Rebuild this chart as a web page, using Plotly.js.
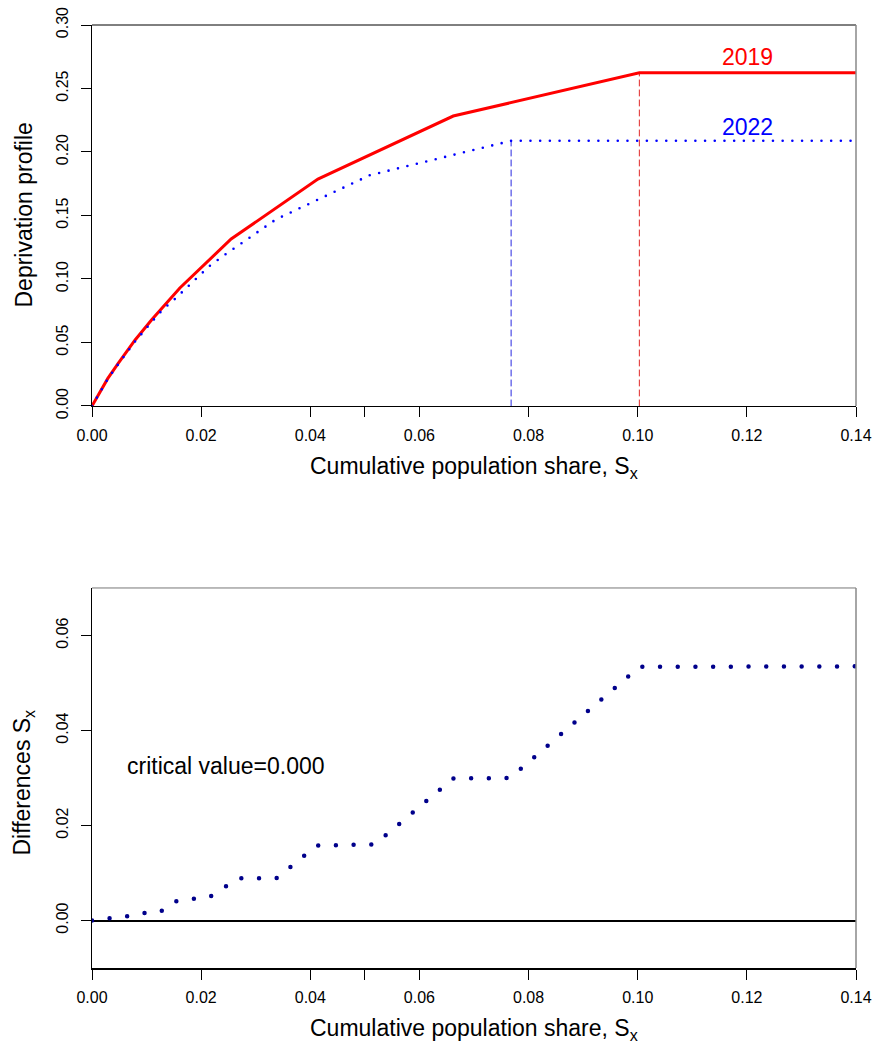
<!DOCTYPE html>
<html><head><meta charset="utf-8">
<script src="https://cdn.plot.ly/plotly-3.0.1.min.js"></script>
<style>
html,body{margin:0;padding:0;background:#fff;}
#chart{width:873px;height:1041px;}
path.js-line{stroke-linecap:round !important;}
</style></head><body><div id="chart"></div>
<script>
// Deprivation profiles (top panel)
const x2019 = [0, 0.0015, 0.0029, 0.0048, 0.0079, 0.0109, 0.0161, 0.0255, 0.0414, 0.0662, 0.1003, 0.14];
const y2019 = [0, 0.0110, 0.0217, 0.0336, 0.0520, 0.0677, 0.0929, 0.1315, 0.1787, 0.2283, 0.2624, 0.2624];
const x2022 = [0, 0.0015, 0.0029, 0.0048, 0.0079, 0.0109, 0.0130, 0.0150, 0.0182, 0.0215, 0.0240, 0.0268, 0.0337, 0.0509, 0.0768, 0.14];
const y2022 = [0, 0.0108, 0.0213, 0.0329, 0.0508, 0.0660, 0.0761, 0.0835, 0.0968, 0.1101, 0.1181, 0.1265, 0.1469, 0.1817, 0.2088, 0.2088];
// Points where each profile reaches its maximum (dashed drop lines)
const xCut = [0.1003, 0.0768];
const yCut = [0.2624, 0.2088];
const seriesNames = ['2019', '2022'];
// Differences (bottom panel)
const xDiff = [0, 0.0032, 0.0064, 0.0096, 0.0125, 0.0150, 0.0216, 0.0268, 0.0338, 0.0412, 0.0518, 0.0662, 0.0766, 0.1003, 0.14];
const yDiff = [0, 0.0004, 0.0009, 0.0016, 0.0018, 0.0040, 0.0050, 0.0089, 0.0089, 0.0158, 0.0160, 0.0299, 0.0300, 0.0534, 0.0535];
const criticalLabel = 'critical value=0.000';
// Ticks
const xTickVals = [0, 0.02, 0.04, 0.06, 0.08, 0.10, 0.12, 0.14];
const xTickText = ['0.00', '0.02', '0.04', '0.06', '0.08', '0.10', '0.12', '0.14'];
const xExtraTick = [0.05];
const yTickVals1 = [0, 0.05, 0.10, 0.15, 0.20, 0.25, 0.30];
const yTickText1 = ['0.00', '0.05', '0.10', '0.15', '0.20', '0.25', '0.30'];
const yTickVals2 = [0, 0.02, 0.04, 0.06];
const yTickText2 = ['0.00', '0.02', '0.04', '0.06'];

const FONT = 'Liberation Sans, Arial, Helvetica, sans-serif';
const BIG = 23;

const traces = [
  {x: [xCut[0], xCut[0]], y: [0, yCut[0]], xaxis: 'x', yaxis: 'y', mode: 'lines',
   line: {color: 'rgb(225,40,40)', width: 1, dash: '6px,4px'}, hoverinfo: 'skip'},
  {x: [xCut[1], xCut[1]], y: [0, yCut[1]], xaxis: 'x', yaxis: 'y', mode: 'lines',
   line: {color: 'rgb(40,40,225)', width: 1, dash: '6px,4px'}, hoverinfo: 'skip'},
  {x: x2019, y: y2019, xaxis: 'x', yaxis: 'y', mode: 'lines', name: seriesNames[0],
   line: {color: '#ff0000', width: 3}},
  {x: x2022, y: y2022, xaxis: 'x', yaxis: 'y', mode: 'lines', name: seriesNames[1],
   line: {color: '#0000ff', width: 2.6, dash: '0px,9.7px'}},
  {x: xDiff, y: yDiff, xaxis: 'x2', yaxis: 'y2', mode: 'lines', name: 'Differences',
   line: {color: '#00008b', width: 4.5, dash: '0px,17.7px'}}
];

const axCommon = {
  ticks: 'outside', ticklen: 10, tickwidth: 1, tickcolor: '#000',
  showline: true, linecolor: '#000', linewidth: 1.5,
  showgrid: false, zeroline: false, fixedrange: true,
  tickfont: {family: FONT, size: 16, color: '#000'},
  tickmode: 'array'
};
const xMinor = {tickmode: 'array', tickvals: xExtraTick, ticks: 'outside', ticklen: 10, tickwidth: 1, tickcolor: '#000', showgrid: false};

const layout = {
  width: 873, height: 1041,
  margin: {l: 92, r: 17, t: 25, b: 73},
  paper_bgcolor: '#fff', plot_bgcolor: '#fff',
  showlegend: false,
  font: {family: FONT, color: '#000'},
  xaxis: Object.assign({}, axCommon, {domain: [0, 1], anchor: 'y', range: [0, 0.14],
    tickvals: xTickVals, ticktext: xTickText, ticklabelstandoff: 4, minor: xMinor}),
  yaxis: Object.assign({}, axCommon, {domain: [0.596, 1], anchor: 'x', range: [0, 0.30],
    tickvals: yTickVals1, ticktext: yTickText1, tickangle: -90, ticklabelstandoff: 6}),
  xaxis2: Object.assign({}, axCommon, {domain: [0, 1], anchor: 'y2', range: [0, 0.14],
    tickvals: xTickVals, ticktext: xTickText, ticklabelstandoff: 4, minor: xMinor}),
  yaxis2: Object.assign({}, axCommon, {domain: [0, 0.403], anchor: 'x2', range: [-0.01, 0.07],
    tickvals: yTickVals2, ticktext: yTickText2, tickangle: -90, ticklabelstandoff: 6,
    zeroline: true, zerolinecolor: '#000', zerolinewidth: 2}),
  shapes: [
    {type: 'line', xref: 'x domain', yref: 'y domain', x0: 0, x1: 1, y0: 1, y1: 1, line: {color: '#000', width: 1}},
    {type: 'line', xref: 'x domain', yref: 'y domain', x0: 1, x1: 1, y0: 0, y1: 1, line: {color: '#888', width: 1.5}},
    {type: 'line', xref: 'x2 domain', yref: 'y2 domain', x0: 0, x1: 1, y0: 1, y1: 1, line: {color: '#777', width: 1}},
    {type: 'line', xref: 'x2 domain', yref: 'y2 domain', x0: 1, x1: 1, y0: 0, y1: 1, line: {color: '#888', width: 1.5}}
  ],
  annotations: [
    {xref: 'paper', yref: 'paper', x: -0.089, y: 0.798, text: 'Deprivation profile', textangle: -90,
     showarrow: false, xanchor: 'center', yanchor: 'middle', font: {size: BIG}},
    {xref: 'paper', yref: 'paper', x: 0.5, y: 0.5312, text: 'Cumulative population share, S<sub>x</sub>',
     showarrow: false, xanchor: 'center', yanchor: 'middle', font: {size: BIG}},
    {xref: 'paper', yref: 'paper', x: -0.089, y: 0.1967, text: 'Differences S<sub>x</sub>', textangle: -90,
     showarrow: false, xanchor: 'center', yanchor: 'middle', font: {size: BIG}},
    {xref: 'paper', yref: 'paper', x: 0.5, y: -0.0656, text: 'Cumulative population share, S<sub>x</sub>',
     showarrow: false, xanchor: 'center', yanchor: 'middle', font: {size: BIG}},
    {xref: 'x', yref: 'y', x: 0.1202, y: 0.2746, text: seriesNames[0], showarrow: false,
     xanchor: 'center', yanchor: 'middle', font: {size: BIG, color: '#ff0000'}},
    {xref: 'x', yref: 'y', x: 0.1202, y: 0.2199, text: seriesNames[1], showarrow: false,
     xanchor: 'center', yanchor: 'middle', font: {size: BIG, color: '#0000ff'}},
    {xref: 'x2', yref: 'y2', x: 0.0060, y: 0.0326, text: criticalLabel, showarrow: false,
     xanchor: 'left', yanchor: 'middle', font: {size: BIG, color: '#000'}}
  ]
};

Plotly.newPlot('chart', traces, layout, {staticPlot: true, displayModeBar: false});
</script>
</body></html>
